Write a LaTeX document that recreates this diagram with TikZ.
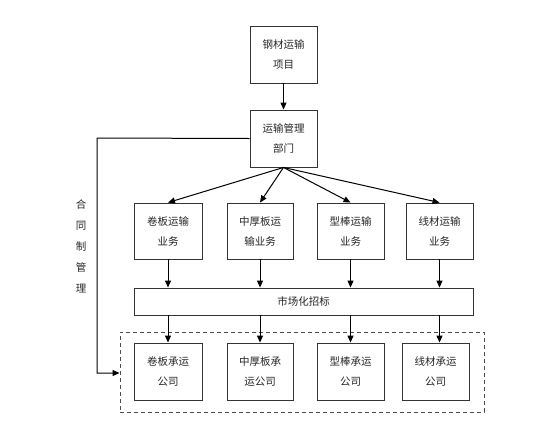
\documentclass[tikz,border=0pt]{standalone}
\usepackage{fontspec}
\newfontfamily\cjk{Noto Sans CJK SC}
\usetikzlibrary{arrows.meta}
\begin{document}
\begin{tikzpicture}[x=1pt,y=-1pt,
  box/.style={draw=black!80,line width=0.9pt,fill=white,inner sep=0pt,font=\cjk\fontsize{10.5}{20}\selectfont,text=black!85,align=center},
  arr/.style={line width=1pt,-{Triangle[length=7pt,width=6pt]}},
  ln/.style={line width=1pt}]
\useasboundingbox (0,0) rectangle (553,437);
% dashed group
\node[draw=black!70,dash pattern=on 4pt off 3pt,line width=0.9pt,minimum width=364pt,minimum height=80pt,inner sep=0pt] (grp) at (302,372) {};
\node[box,minimum width=67pt,minimum height=57pt] (top) at (283.5,54.5) {钢材运输\\项目};
\node[box,minimum width=67pt,minimum height=57pt] (dept) at (283.5,138.5) {运输管理\\部门};
\node[box,minimum width=68pt,minimum height=56pt] (b1) at (168,231) {卷板运输\\业务};
\node[box,minimum width=66pt,minimum height=56pt] (b2) at (260,231) {中厚板运\\输业务};
\node[box,minimum width=67pt,minimum height=56pt] (b3) at (350.5,231) {型棒运输\\业务};
\node[box,minimum width=67pt,minimum height=56pt] (b4) at (439.5,231) {线材运输\\业务};
\node[box,minimum width=339pt,minimum height=27pt] (mkt) at (303.5,301.5) {市场化招标};
\node[box,minimum width=68pt,minimum height=57pt] (c1) at (168,371.5) {卷板承运\\公司};
\node[box,minimum width=66pt,minimum height=57pt] (c2) at (260,371.5) {中厚板承\\运公司};
\node[box,minimum width=67pt,minimum height=57pt] (c3) at (350.5,371.5) {型棒承运\\公司};
\node[box,minimum width=67pt,minimum height=57pt] (c4) at (435.5,371.5) {线材承运\\公司};
\node[font=\cjk\fontsize{10.5}{21}\selectfont,text=black!85,align=center,inner sep=0pt] (lbl) at (81,246) {合\\同\\制\\管\\理};
\coordinate (k1) at (97,138);
\coordinate (k2) at (97,373);
\draw[arr] (top) -- (dept);
\draw[arr] (dept.south) -- (b1.north);
\draw[arr] (dept.south) -- (b2.north);
\draw[arr] (dept.south) -- (b3.north);
\draw[arr] (dept.south) -- (b4.north);
\foreach \i in {1,2,3,4}{
  \draw[arr] (b\i.south) -- (b\i.south |- mkt.north);
}
\draw[arr] (c1.north |- mkt.south) -- (c1.north);
\draw[arr] (c2.north |- mkt.south) -- (c2.north);
\draw[arr] (c3.north |- mkt.south) -- (c3.north);
\draw[arr] (b4.south |- mkt.south) -- (b4.south |- c4.north);
\draw[arr] (dept.west) -- (k1) -- (k2) -- (k2 -| grp.west);
\end{tikzpicture}
\end{document}
